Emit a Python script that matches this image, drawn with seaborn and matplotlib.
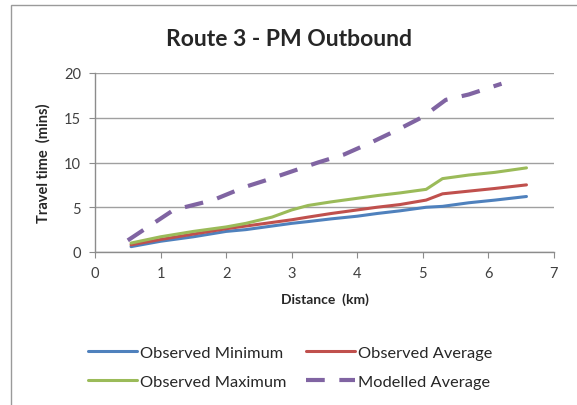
import numpy as np
import pandas as pd
import matplotlib
matplotlib.use("Agg")
import matplotlib.pyplot as plt
import seaborn as sns
from matplotlib.patches import Rectangle

# Observed travel times along the route (distance in km, time in mins)
obs_distance = [0.55, 1.0, 1.5, 2.0, 2.3, 2.7, 3.0, 3.25, 3.6, 4.0, 4.3, 4.65, 5.05, 5.3, 5.7, 6.1, 6.58]
obs_minimum = [0.6, 1.2, 1.7, 2.3, 2.5, 2.9, 3.2, 3.4, 3.7, 4.0, 4.3, 4.6, 5.0, 5.1, 5.5, 5.8, 6.2]
obs_average = [0.8, 1.4, 2.0, 2.6, 2.9, 3.3, 3.6, 3.9, 4.3, 4.7, 5.0, 5.3, 5.8, 6.5, 6.8, 7.1, 7.5]
obs_maximum = [1.0, 1.7, 2.3, 2.8, 3.2, 3.9, 4.7, 5.2, 5.6, 6.0, 6.3, 6.6, 7.0, 8.2, 8.6, 8.9, 9.4]

# Modelled average travel time
mod_distance = [0.5, 1.2, 1.8, 2.3, 2.6, 3.0, 3.4, 3.8, 4.2, 4.6, 5.0, 5.35, 5.7, 6.2]
mod_average = [1.3, 4.7, 5.8, 7.3, 8.0, 9.0, 10.0, 10.9, 12.2, 13.6, 15.1, 17.0, 17.6, 18.8]

labels = ["Observed Minimum", "Observed Average", "Observed Maximum", "Modelled Average"]
colors = ["#4F81BD", "#C0504D", "#9BBB59", "#8064A2"]

sns.set_style("white")
plt.rcParams["font.family"] = ["Lato", "DejaVu Sans"]

fig = plt.figure(figsize=(5.77, 4.06), dpi=100)
ax = fig.add_axes([95 / 577, 1 - 253 / 406, (554 - 95) / 577, (253 - 74) / 406])

# outer chart frame
fig.patches.append(Rectangle((11 / 577, -0.05), 1.1, 1 - 6 / 406 + 0.05,
                             transform=fig.transFigure, fill=False,
                             edgecolor="#9a9a9a", linewidth=1.0, zorder=-1))

obs = pd.DataFrame({"x": obs_distance, "min": obs_minimum, "avg": obs_average, "max": obs_maximum})
mod = pd.DataFrame({"x": mod_distance, "y": mod_average})

sns.lineplot(data=obs, x="x", y="min", ax=ax, color=colors[0], lw=2.2, label=labels[0])
sns.lineplot(data=obs, x="x", y="avg", ax=ax, color=colors[1], lw=2.2, label=labels[1])
sns.lineplot(data=obs, x="x", y="max", ax=ax, color=colors[2], lw=2.2, label=labels[2])
sns.lineplot(data=mod, x="x", y="y", ax=ax, color=colors[3], lw=3.0, label=labels[3],
             dashes=False, linestyle=(0, (4.5, 3.5)))

ax.set_xlim(0, 7)
ax.set_ylim(0, 20)
ax.set_xticks(range(0, 8))
ax.set_yticks([0, 5, 10, 15, 20])
ax.yaxis.grid(True, color="#a0a0a0", lw=1.0)
ax.xaxis.grid(False)
for s in ["top", "right"]:
    ax.spines[s].set_visible(False)
for s in ["left", "bottom"]:
    ax.spines[s].set_color("#8c8c8c")
    ax.spines[s].set_linewidth(1.0)
ax.tick_params(axis="both", which="major", length=4, color="#8c8c8c",
               labelsize=10.5, labelcolor="#404040", direction="out",
               bottom=True, left=True, pad=6)

ax.set_xlabel("Distance  (km)", fontsize=10, fontweight="bold", labelpad=9)
ax.set_ylabel("Travel time  (mins)", fontsize=10.5, fontweight="bold", labelpad=10)
fig.text(0.5, 1 - 40 / 406, "Route 3 - PM Outbound", ha="center", va="center",
         fontsize=16.5, fontweight="bold")

# Excel-style row-major legend: reorder for matplotlib's column filling
handles, labs = ax.get_legend_handles_labels()
order = [0, 2, 1, 3]
ax.legend([handles[i] for i in order], [labs[i] for i in order],
          loc="center", bbox_to_anchor=(290 / 577, 1 - 368 / 406),
          bbox_transform=fig.transFigure, ncol=2, frameon=False,
          fontsize=11.8, handlelength=3.0, handletextpad=0.15,
          columnspacing=1.2, labelspacing=0.9)

fig.savefig("out.png", dpi=100)
